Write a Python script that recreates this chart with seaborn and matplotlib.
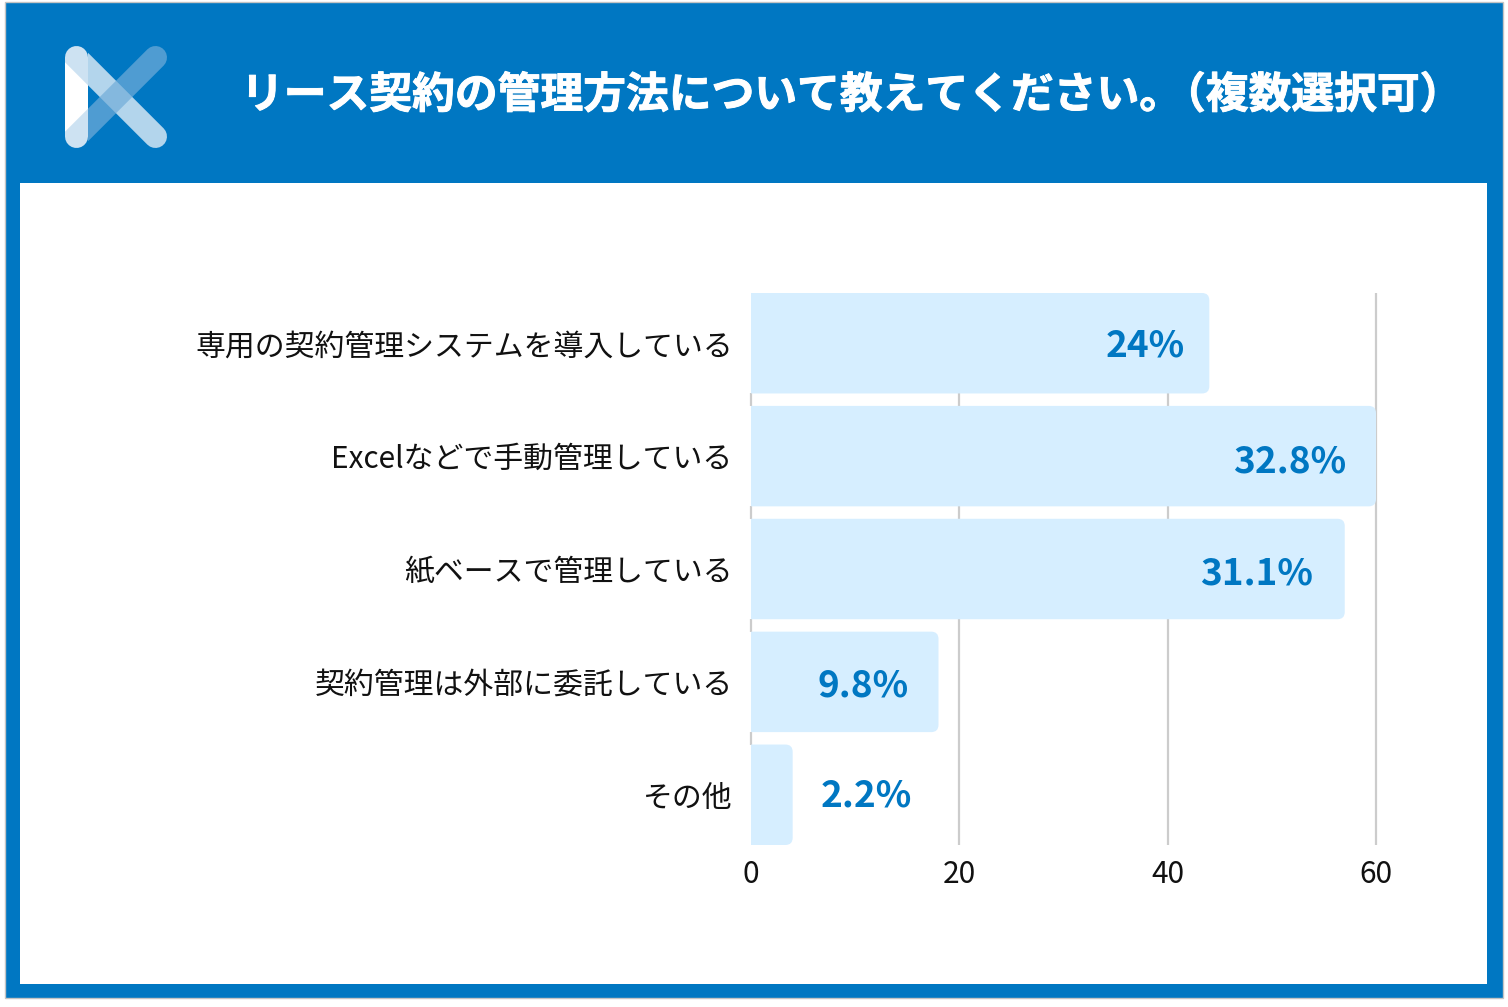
import matplotlib
matplotlib.use("Agg")
import matplotlib.pyplot as plt
import matplotlib.patheffects as pe
from matplotlib.lines import Line2D
from matplotlib.patches import FancyBboxPatch, Polygon, Rectangle
import pandas as pd
import seaborn as sns

title_main = "リース契約の管理方法について教えてください。"
title_note = "（複数選択可）"
categories = [
    "専用の契約管理システムを導入している",
    "Excelなどで手動管理している",
    "紙ベースで管理している",
    "契約管理は外部に委託している",
    "その他",
]
# bars are the counts, the labels are the share of all answers
counts = [44, 60, 57, 18, 4]
percent_labels = ["24%", "32.8%", "31.1%", "9.8%", "2.2%"]
x_ticks = [0, 20, 40, 60]

BLUE = "#0077c2"
BAR = "#d6eeff"
GRID = "#cccccc"
W, H = 1508, 1007

sns.set_theme(style="white")
plt.rcParams["font.family"] = ["Noto Sans CJK JP", "DejaVu Sans"]


def px(v):
    return v * 72 / 100


fig = plt.figure(figsize=(W / 100, H / 100), dpi=100, facecolor="white")

# frame, header and logo are drawn in pixel coordinates
bg = fig.add_axes([0, 0, 1, 1], zorder=0)
bg.set_xlim(0, W)
bg.set_ylim(H, 0)
bg.axis("off")
bg.add_patch(Rectangle((5, 2), 1498, 996, fc=BLUE, ec="#c4c4c4", lw=1))
bg.add_patch(Rectangle((20, 183), 1467, 801, fc="white", ec="none"))

right_of_bar = Rectangle((88, 0), 200, 200, transform=bg.transData)
diag1 = Line2D([76.5, 155.5], [57.5, 136.5], color="#b3d5ec", lw=px(23), solid_capstyle="round")
diag2 = Line2D([155.5, 76.5], [57.5, 136.5], color="#71add9", alpha=0.7, lw=px(23), solid_capstyle="round")
for line in [diag1, diag2]:
    bg.add_line(line)
    line.set_clip_path(right_of_bar)
stem = Line2D([76.5, 76.5], [57.5, 136.5], color="#cde2f2", lw=px(23), solid_capstyle="round", zorder=3)
stem.set_snap(False)
bg.add_line(stem)
tri = Polygon([(65, 62.3), (88, 85.3), (88, 108.7), (65, 131.7)], fc="white", ec="none", zorder=4)
tri.set_snap(False)
bg.add_patch(tri)

heavy = [pe.withStroke(linewidth=0.7, foreground="white")]
bg.text(241, 95, title_main, color="white", fontsize=30.8, fontweight="bold", ha="left", va="center", path_effects=heavy)
bg.text(1163, 95, title_note, color="white", fontsize=30.8, fontweight="bold", ha="left", va="center", path_effects=heavy)

# chart
ax = fig.add_axes([751 / W, 1 - 845 / H, 625 / W, 552 / H], zorder=1)
ax.patch.set_alpha(0)
df = pd.DataFrame({"category": categories, "count": counts})
bar_h = 0.89
sns.barplot(data=df, x="count", y="category", orient="h", color=BAR, saturation=1, width=bar_h, ax=ax)

ax.set_xlim(0, 60)
ax.set_ylim(4 + bar_h / 2, -bar_h / 2)
ax.set_xticks(x_ticks)
ax.set_xlabel("")
ax.set_ylabel("")
ax.tick_params(axis="both", length=0, labelsize=21.5, colors="#111111")
ax.tick_params(axis="y", pad=13.2)
ax.tick_params(axis="x", pad=10)
sns.despine(ax=ax, left=True, bottom=True)
ax.grid(axis="x", color=GRID, lw=1.6)
ax.set_axisbelow(True)
for gl in ax.get_xgridlines():
    gl.set_clip_on(False)
    gl.set_solid_capstyle("butt")

# swap the square bars for ones with rounded right corners
aspect = (625 / 60) / (552 / (4 + bar_h))
for p in list(ax.patches):
    y, h, w = p.get_y(), p.get_height(), p.get_width()
    p.remove()
    ax.add_patch(FancyBboxPatch((-2, y), w + 2, h, boxstyle="round,pad=0,rounding_size=0.7",
                                mutation_aspect=aspect, fc=BAR, ec="none", zorder=2))
    # the zero gridline only shows in the gaps between bars
    ax.add_patch(Rectangle((-0.2, y), 0.2, h, fc="white", ec="none", clip_on=False, zorder=2))

x_pads = [-25, -30, -32, -30, 28]
y_pads = [-3, -6, -5, -4, -1]
for i, (value, label, xp, yp) in enumerate(zip(counts, percent_labels, x_pads, y_pads)):
    ax.annotate(label, (value, i), xytext=(px(xp), px(yp)), textcoords="offset points",
                ha="right" if xp < 0 else "left", va="center",
                color=BLUE, fontsize=26.6, fontweight="bold", zorder=3)

fig.savefig("out.png", dpi=100, facecolor="white")
